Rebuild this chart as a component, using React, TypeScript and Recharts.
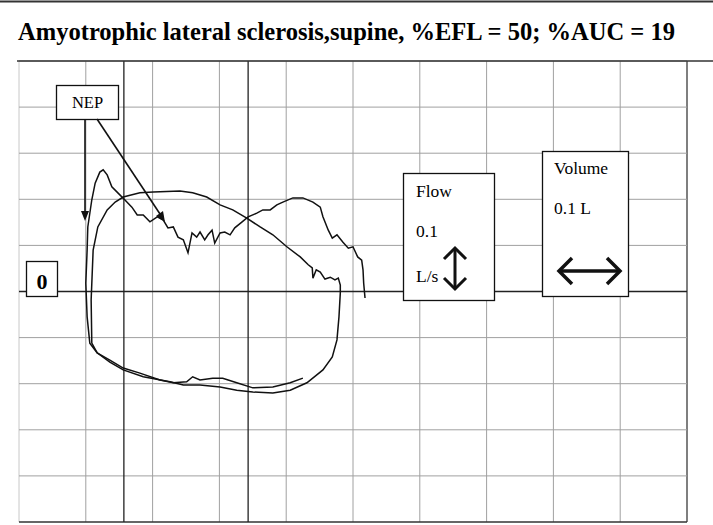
import { LineChart, Line, XAxis, YAxis, ReferenceLine } from "recharts";

// volume (L) on x, flow (L/s) on y
const nepVolume = [
  0.425, 0.406, 0.38, 0.35, 0.326, 0.305, 0.29, 0.271, 0.26, 0.251, 0.231, 0.211, 0.181, 0.156, 0.136,
  0.117, 0.106, 0.102, 0.1, 0.102, 0.103, 0.109, 0.114, 0.121, 0.126, 0.132, 0.139, 0.148, 0.159, 0.169,
  0.177, 0.186, 0.196, 0.207, 0.216, 0.223, 0.231, 0.238, 0.246, 0.253, 0.259, 0.266, 0.271, 0.278, 0.283,
  0.289, 0.293, 0.301, 0.308, 0.316, 0.323, 0.334, 0.343, 0.356, 0.365, 0.376, 0.386, 0.395, 0.41, 0.425,
  0.44, 0.451, 0.455, 0.463, 0.469, 0.476, 0.485, 0.493, 0.5, 0.507, 0.513, 0.515, 0.516, 0.518,
];
const nepFlow = [
  -0.188, -0.198, -0.207, -0.209, -0.198, -0.188, -0.188, -0.192, -0.185, -0.196, -0.198, -0.192, -0.177,
  -0.166, -0.149, -0.133, -0.112, -0.055, 0.018, 0.09, 0.14, 0.199, 0.235, 0.259, 0.264, 0.253, 0.227, 0.214,
  0.198, 0.183, 0.166, 0.166, 0.151, 0.162, 0.155, 0.138, 0.14, 0.118, 0.112, 0.084, 0.127, 0.118, 0.129,
  0.112, 0.123, 0.133, 0.105, 0.127, 0.129, 0.123, 0.138, 0.151, 0.162, 0.17, 0.177, 0.177, 0.188, 0.194,
  0.203, 0.203, 0.194, 0.183, 0.162, 0.133, 0.116, 0.123, 0.107, 0.094, 0.097, 0.075, 0.068, 0.047, 0.018,
  -0.014,
];

const controlVolume = [
  0.109, 0.108, 0.111, 0.118, 0.132, 0.144, 0.156, 0.181, 0.201, 0.241, 0.26, 0.281, 0.301, 0.32, 0.341,
  0.361, 0.38, 0.401, 0.421, 0.433, 0.439, 0.44, 0.445, 0.451, 0.458, 0.466, 0.473, 0.478, 0.481, 0.481,
  0.479, 0.476, 0.469, 0.455, 0.431, 0.406, 0.38, 0.35, 0.326, 0.301, 0.271, 0.246, 0.226, 0.186, 0.156,
  0.136, 0.117, 0.109,
];
const controlFlow = [
  -0.112, -0.018, 0.09, 0.14, 0.177, 0.194, 0.205, 0.214, 0.216, 0.218, 0.214, 0.205, 0.188, 0.177, 0.159,
  0.14, 0.123, 0.097, 0.075, 0.058, 0.051, 0.029, 0.047, 0.042, 0.027, 0.031, 0.025, 0.029, 0.014, -0.003,
  -0.055, -0.105, -0.142, -0.17, -0.198, -0.214, -0.22, -0.218, -0.214, -0.207, -0.203, -0.203, -0.196,
  -0.185, -0.17, -0.153, -0.133, -0.112,
];

const gridVolume = [0, 0.1, 0.2, 0.3, 0.4, 0.5, 0.6, 0.7, 0.8, 0.9, 1.0];
const gridFlow = [-0.5, -0.4, -0.3, -0.2, -0.1, 0.1, 0.2, 0.3, 0.4, 0.5];
const darkVolume = [0.157, 0.343];

const title = "Amyotrophic lateral sclerosis,supine, %EFL = 50; %AUC = 19";

const nepData = nepVolume.map((v, i) => ({ v, f: nepFlow[i] }));
const controlData = controlVolume.map((v, i) => ({ v, f: controlFlow[i] }));

const serif = "'Liberation Serif', 'Times New Roman', serif";

function Overlay() {
  return (
    <svg width={713} height={525} style={{ position: "absolute", left: 0, top: 0, pointerEvents: "none" }}>
      <line x1={0} y1={1.5} x2={713} y2={1.5} stroke="#333" strokeWidth={2} />
      <text x={18} y={40} fontFamily={serif} fontWeight="bold" fontSize={26} textLength={657} lengthAdjust="spacingAndGlyphs">
        {title}
      </text>
      <line x1={17} y1={61} x2={713} y2={61} stroke="#333" strokeWidth={1.6} />

      {/* NEP label and arrows */}
      <rect x={56.5} y={85.5} width={62} height={34} fill="#fff" stroke="#111" strokeWidth={1.3} />
      <text x={87.5} y={108} textAnchor="middle" fontFamily={serif} fontSize={16.5}>NEP</text>
      <line x1={85} y1={119} x2={85} y2={212} stroke="#111" strokeWidth={1.6} />
      <polygon points="81,211 89,211 85,221" fill="#111" />
      <line x1={97} y1={119} x2={160} y2={214} stroke="#111" strokeWidth={1.6} />
      <polygon points="156,216 163,211 165,222" fill="#111" />

      {/* zero marker */}
      <rect x={26.5} y={261.5} width={31} height={35} fill="#fff" stroke="#111" strokeWidth={1.3} />
      <text x={42} y={289} textAnchor="middle" fontFamily={serif} fontWeight="bold" fontSize={22}>0</text>

      {/* flow scale box */}
      <rect x={403.5} y={173.5} width={91} height={127} fill="#fff" stroke="#111" strokeWidth={1.3} />
      <text x={416} y={197} fontFamily={serif} fontSize={17.5}>Flow</text>
      <text x={416} y={237} fontFamily={serif} fontSize={17.5}>0.1</text>
      <text x={416} y={282} fontFamily={serif} fontSize={17.5}>L/s</text>
      <g stroke="#111" strokeWidth={3} fill="none">
        <line x1={455} y1={249} x2={455} y2={288} />
        <polyline points="444,259 455,248 466,259" />
        <polyline points="444,278 455,289 466,278" />
      </g>

      {/* volume scale box */}
      <rect x={542.5} y={151.5} width={86} height={145} fill="#fff" stroke="#111" strokeWidth={1.3} />
      <text x={554} y={174} fontFamily={serif} fontSize={17.5}>Volume</text>
      <text x={554} y={214} fontFamily={serif} fontSize={17.5}>0.1 L</text>
      <g stroke="#111" strokeWidth={3.5} fill="none">
        <line x1={559} y1={271} x2={620} y2={271} />
        <polyline points="572,258 559,271 572,284" />
        <polyline points="607,258 620,271 607,284" />
      </g>
    </svg>
  );
}

export default function App() {
  return (
    <div style={{ position: "absolute", left: 0, top: 0, width: 713, height: 525, background: "#fff" }}>
      <LineChart width={713} height={525} margin={{ top: 61, right: 26, bottom: 3, left: 19 }}>
        <XAxis type="number" dataKey="v" domain={[0, 1]} hide allowDataOverflow />
        <YAxis type="number" dataKey="f" domain={[-0.5, 0.5]} hide allowDataOverflow />
        {gridVolume.map((x, i) => (
          <ReferenceLine
            key={"gx" + x}
            x={x}
            stroke={i === 0 ? "#c8c8c8" : i === gridVolume.length - 1 ? "#555" : "#a0a0a0"}
            strokeWidth={i === gridVolume.length - 1 ? 1.5 : 1}
          />
        ))}
        {gridFlow.map((y, i) => (
          <ReferenceLine
            key={"gy" + y}
            y={y}
            stroke={i === 0 ? "#333" : "#a0a0a0"}
            strokeWidth={i === 0 ? 1.6 : 1}
          />
        ))}
        {darkVolume.map((x) => (
          <ReferenceLine key={"dx" + x} x={x} stroke="#222" strokeWidth={1.3} />
        ))}
        <ReferenceLine y={0} stroke="#222" strokeWidth={1.5} />
        <Line data={controlData} dataKey="f" type="linear" dot={false} stroke="#111" strokeWidth={1.5} isAnimationActive={false} />
        <Line data={nepData} dataKey="f" type="linear" dot={false} stroke="#111" strokeWidth={1.5} isAnimationActive={false} />
      </LineChart>
      <Overlay />
    </div>
  );
}
